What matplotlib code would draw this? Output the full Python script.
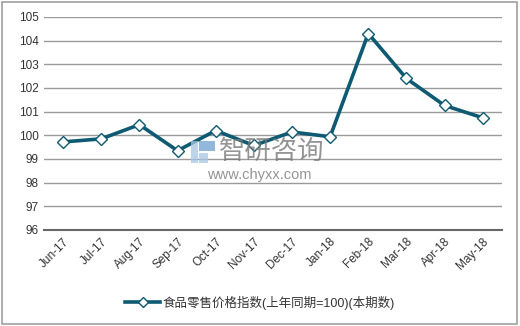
import matplotlib
matplotlib.use("Agg")
import matplotlib.pyplot as plt
import matplotlib.patches as mpatches

plt.rcParams['font.family'] = ['Liberation Sans', 'Noto Sans CJK SC', 'DejaVu Sans']

months = ["Jun-17", "Jul-17", "Aug-17", "Sep-17", "Oct-17", "Nov-17",
          "Dec-17", "Jan-18", "Feb-18", "Mar-18", "Apr-18", "May-18"]
values = [99.72, 99.85, 100.45, 99.35, 100.2, 99.57,
          100.14, 99.94, 104.3, 102.4, 101.26, 100.74]
series_name = "食品零售价格指数(上年同期=100)(本期数)"
yticks = [96, 97, 98, 99, 100, 101, 102, 103, 104, 105]

LINE = "#0d5a72"
GRID = "#9a9a9a"
TEXT = "#333333"
W, H = 520.0, 326.0

fig = plt.figure(figsize=(5.2, 3.26), dpi=100)
ax = fig.add_axes([0.0846, 0.2945, 0.8804, 0.6535])

x = list(range(len(months)))
ax.plot(x, values, color=LINE, linewidth=2.6, marker="D", markersize=6,
        markerfacecolor="white", markeredgecolor=LINE, markeredgewidth=1.0,
        label=series_name, zorder=3)

ax.set_xlim(-0.5, len(months) - 0.5)
ax.set_ylim(96, 105)
ax.set_yticks(yticks)
ax.set_yticklabels([str(v) for v in yticks], fontsize=8.5, color=TEXT)
ax.set_xticks(x)
ax.set_xticklabels(months, rotation=45, ha="right", rotation_mode="anchor",
                   fontsize=8.5, color=TEXT)
ax.tick_params(axis="both", length=0, pad=4)
ax.grid(axis="y", color=GRID, linewidth=1.0)
ax.set_axisbelow(True)
for s in ["top", "right", "left"]:
    ax.spines[s].set_visible(False)
ax.spines["bottom"].set_color("#666666")
ax.spines["bottom"].set_linewidth(1.5)

leg = fig.legend(loc="center", bbox_to_anchor=(0.5, 0.072), frameon=False,
                 fontsize=9, handlelength=2.8, handletextpad=0.2, markerscale=0.85)
for t in leg.get_texts():
    t.set_color(TEXT)


def px(x0, y0, w, h):
    # pixel box (top-left origin) -> figure fraction
    return (x0 / W, 1 - (y0 + h) / H), w / W, h / H


# watermark
fig.text(272 / W, 1 - 152 / H, "智研咨询", fontsize=19, color="#7a7a7a", alpha=0.8,
         ha="center", va="center")
fig.text(259 / W, 1 - 175 / H, "www.chyxx.com", fontsize=10.5, color="#7a7a7a",
         alpha=0.8, ha="center", va="center")
for (bx, by, bw, bh, c) in [(191, 141, 7, 22, "#a9c6e6"), (199, 141, 16, 10, "#6f9fd0"),
                            (199, 153, 9, 10, "#a9c6e6")]:
    xy, fw, fh = px(bx, by, bw, bh)
    fig.patches.append(mpatches.Rectangle(xy, fw, fh, transform=fig.transFigure,
                       facecolor=c, alpha=0.75, edgecolor="none"))

# outer border
fig.patches.append(mpatches.Rectangle((0.004, 0.006), 0.99, 0.988,
                   transform=fig.transFigure, facecolor="none",
                   edgecolor="#a0a0a0", linewidth=1.2))

fig.savefig("out.png", dpi=100)
